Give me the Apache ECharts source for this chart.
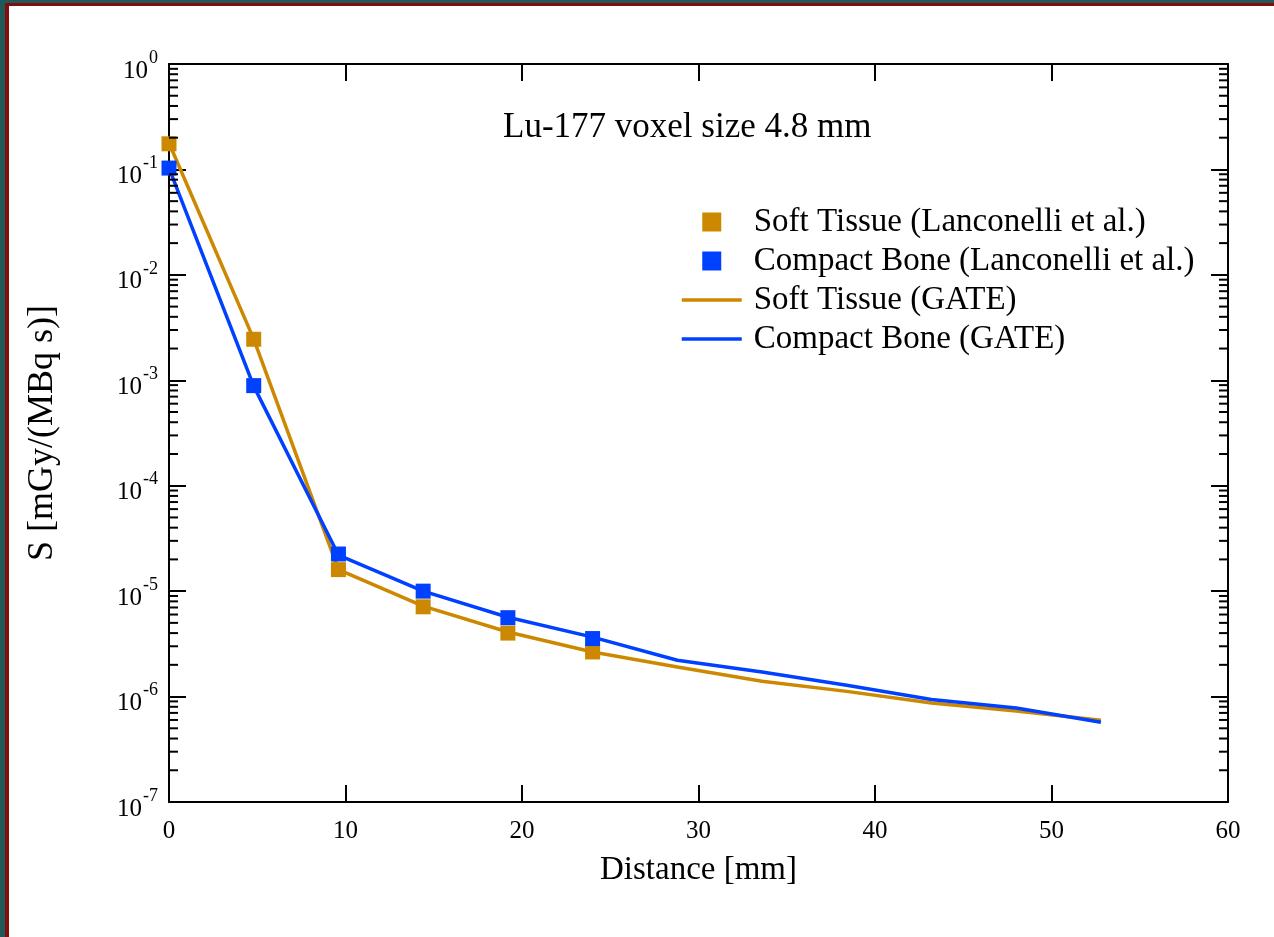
<!DOCTYPE html>
<html>
<head>
<meta charset="utf-8">
<title>Lu-177 voxel S values</title>
<script src="https://cdn.jsdelivr.net/npm/echarts@6/dist/echarts.min.js"></script>
<style>
  html, body { margin: 0; padding: 0; background: #1f5a5b; overflow: hidden; }
  .frame {
    position: absolute; left: 5px; top: 3px;
    width: 1269px; height: 934px; box-sizing: border-box;
    border-top: 3px solid #850c0c; border-left: 4px solid #850c0c;
    background: #fff;
  }
  #chart { width: 1265px; height: 931px; }
</style>
</head>
<body>
<div class="frame"><div id="chart"></div></div>
<script>
// distances [mm]
const refDistance = [0, 4.8, 9.6, 14.4, 19.2, 24.0]
const gateDistance = [0, 4.8, 9.6, 14.4, 19.2, 24.0, 28.8, 33.6, 38.4, 43.2, 48.0, 52.8]

// S values [mGy/(MBq s)]
const softTissueRef = [0.175, 2.45e-3, 1.6e-5, 7.1e-6, 4.0e-6, 2.65e-6]
const compactBoneRef = [0.103, 8.9e-4, 2.25e-5, 1.0e-5, 5.6e-6, 3.55e-6]
const softTissueGate = [0.178, 2.46e-3, 1.6e-5, 7.2e-6, 4.1e-6, 2.65e-6, 1.91e-6, 1.40e-6, 1.12e-6, 8.7e-7, 7.3e-7, 5.97e-7]
const compactBoneGate = [0.103, 8.8e-4, 2.2e-5, 1.0e-5, 5.66e-6, 3.66e-6, 2.21e-6, 1.71e-6, 1.28e-6, 9.4e-7, 7.8e-7, 5.7e-7]

// tick positions
const xTicks = [0, 10, 20, 30, 40, 50, 60]
const decadeExponents = [-7, -6, -5, -4, -3, -2, -1, 0]
const minorMantissas = [2, 3, 4, 5, 6, 7, 8, 9]

const FONT = '"Liberation Serif", "Times New Roman", serif'
const ORANGE = '#cc8800'
const BLUE = '#0040ff'
const axisLineStyle = { color: '#000', width: 2 }

// log minor ticks, one per mantissa in each decade
const minorTicks = []
decadeExponents.slice(0, -1).forEach(e => {
  minorMantissas.forEach(m => minorTicks.push(m * Math.pow(10, e)))
})

const chart = echarts.init(document.getElementById('chart'))

function pair(xs, ys) {
  return xs.map((x, i) => [x, ys[i]])
}

const squareIcon = 'path://M0,0L10,0L10,10L0,10Z'

const xAxisBase = {
  type: 'value',
  min: xTicks[0],
  max: xTicks[xTicks.length - 1],
  interval: 10,
  axisLine: { show: true, onZero: false, lineStyle: axisLineStyle },
  axisTick: { inside: true, length: 17, lineStyle: axisLineStyle },
  splitLine: { show: false }
}

const yAxisBase = {
  type: 'log',
  logBase: 10,
  min: Math.pow(10, decadeExponents[0]),
  max: Math.pow(10, decadeExponents[decadeExponents.length - 1]),
  splitNumber: 7,
  axisLine: { show: true, onZero: false, lineStyle: axisLineStyle },
  axisTick: { inside: true, length: 17, lineStyle: axisLineStyle },
  splitLine: { show: false }
}

const option = {
  animation: false,
  backgroundColor: '#fff',
  grid: { left: 160, right: 46, top: 58, bottom: 135 },
  graphic: [{
    type: 'text',
    left: 494,
    top: 104,
    style: {
      text: 'Lu-177 voxel size 4.8 mm',
      font: '35px ' + FONT,
      fill: '#000'
    }
  }],
  legend: {
    orient: 'vertical',
    left: 666,
    top: 193,
    itemWidth: 60,
    itemHeight: 19,
    itemGap: 3,
    selectedMode: false,
    symbolKeepAspect: true,
    lineStyle: { width: 3.5 },
    textStyle: { fontFamily: FONT, fontSize: 33, color: '#000', lineHeight: 36, padding: [0, 0, 0, 7] },
    data: [
      { name: 'Soft Tissue (Lanconelli et al.)', icon: squareIcon },
      { name: 'Compact Bone (Lanconelli et al.)', icon: squareIcon },
      { name: 'Soft Tissue (GATE)', itemStyle: { opacity: 0 } },
      { name: 'Compact Bone (GATE)', itemStyle: { opacity: 0 } }
    ]
  },
  xAxis: [
    Object.assign({}, xAxisBase, {
      position: 'bottom',
      name: 'Distance [mm]',
      nameLocation: 'middle',
      nameGap: 52,
      nameTextStyle: { fontFamily: FONT, fontSize: 33, color: '#000' },
      axisLabel: { fontFamily: FONT, fontSize: 25, color: '#000', margin: 17 }
    }),
    Object.assign({}, xAxisBase, {
      position: 'top',
      axisLabel: { show: false }
    })
  ],
  yAxis: [
    Object.assign({}, yAxisBase, {
      position: 'left',
      name: 'S [mGy/(MBq s)]',
      nameLocation: 'middle',
      nameGap: 108,
      nameTextStyle: { fontFamily: FONT, fontSize: 36, color: '#000' },
      axisLabel: {
        margin: 11,
        formatter: v => '{b|10}{s|' + Math.round(Math.log10(v)) + '}',
        rich: {
          b: { fontFamily: FONT, fontSize: 25, color: '#000', padding: [14, 0, 0, 0] },
          s: { fontFamily: FONT, fontSize: 18, color: '#000', padding: [0, 0, 12, 1] }
        }
      }
    }),
    Object.assign({}, yAxisBase, {
      position: 'right',
      axisLabel: { show: false }
    })
  ],
  series: [
    {
      name: 'Soft Tissue (GATE)',
      type: 'line',
      data: pair(gateDistance, softTissueGate),
      symbol: 'none',
      color: ORANGE,
      lineStyle: { width: 3.5, color: ORANGE },
      z: 2
    },
    {
      name: 'Compact Bone (GATE)',
      type: 'line',
      data: pair(gateDistance, compactBoneGate),
      symbol: 'none',
      color: BLUE,
      lineStyle: { width: 3.5, color: BLUE },
      z: 3
    },
    {
      name: 'Soft Tissue (Lanconelli et al.)',
      type: 'scatter',
      data: pair(refDistance, softTissueRef),
      symbol: 'rect',
      symbolSize: 15,
      itemStyle: { color: ORANGE, opacity: 1 },
      z: 4
    },
    {
      name: 'Compact Bone (Lanconelli et al.)',
      type: 'scatter',
      data: pair(refDistance, compactBoneRef),
      symbol: 'rect',
      symbolSize: 15,
      itemStyle: { color: BLUE, opacity: 1 },
      z: 5
    },
    {
      // minor log ticks on left and right axes
      type: 'custom',
      silent: true,
      clip: false,
      z: 6,
      data: minorTicks.map(v => [xTicks[0], v]),
      renderItem: (params, api) => {
        const v = api.value(1)
        const l = api.coord([xTicks[0], v])
        const r = api.coord([xTicks[xTicks.length - 1], v])
        const style = { stroke: '#000', lineWidth: 2 }
        return {
          type: 'group',
          children: [
            { type: 'line', shape: { x1: l[0], y1: l[1], x2: l[0] + 9, y2: l[1] }, style },
            { type: 'line', shape: { x1: r[0], y1: r[1], x2: r[0] - 9, y2: r[1] }, style }
          ]
        }
      }
    }
  ]
}

chart.setOption(option)
</script>
</body>
</html>
